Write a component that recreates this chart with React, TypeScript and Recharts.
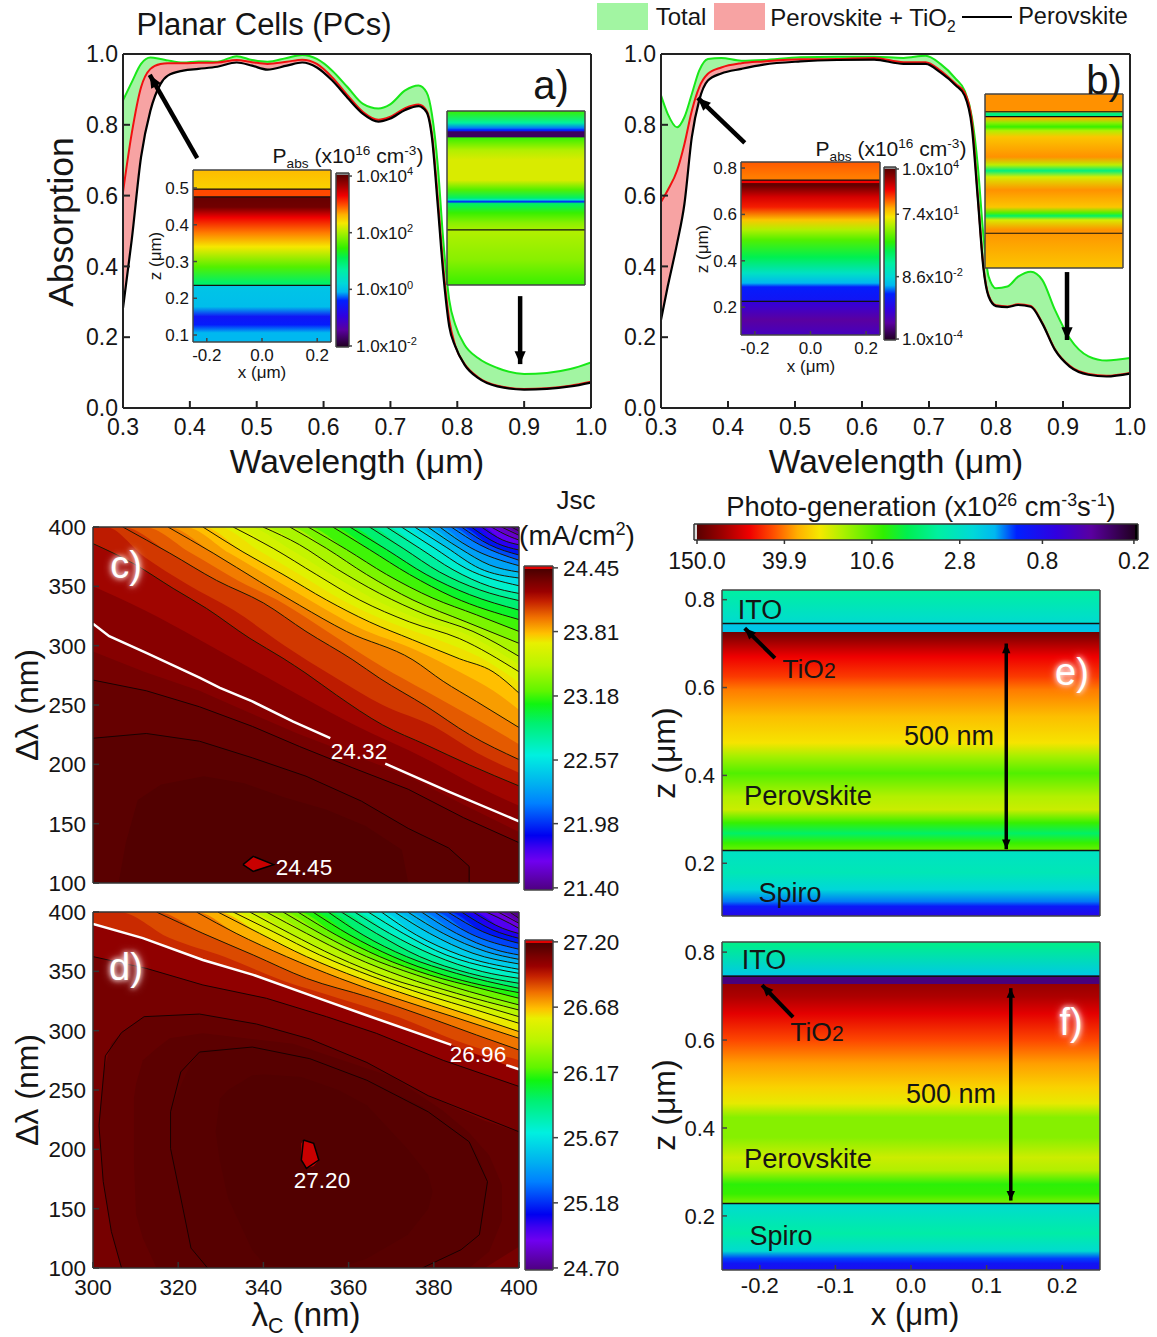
import React from 'react';
import { ComposedChart, Area, Line, XAxis, YAxis, ReferenceLine } from 'recharts';

const FONT = '"Liberation Sans", Arial, sans-serif';
const THIN = 0.001; // axes take no room, the plot box is set by the margins

// a) absorption, planar cell
const waveA = [0.3, 0.313, 0.327, 0.341, 0.356, 0.367, 0.39, 0.413, 0.441, 0.47, 0.493, 0.516, 0.545, 0.568, 0.59, 0.613, 0.636, 0.659, 0.682, 0.699, 0.722, 0.742, 0.754, 0.762, 0.771, 0.779, 0.788, 0.797, 0.811, 0.831, 0.86, 0.9, 0.934, 0.969, 1];
const totalA = [0.869, 0.92, 0.972, 0.99, 0.986, 0.982, 0.976, 0.979, 0.978, 0.994, 0.983, 0.978, 0.989, 0.997, 0.986, 0.953, 0.906, 0.859, 0.846, 0.857, 0.897, 0.911, 0.892, 0.831, 0.681, 0.474, 0.305, 0.235, 0.178, 0.141, 0.113, 0.096, 0.099, 0.11, 0.129];
const tioA = [0.61, 0.775, 0.906, 0.958, 0.972, 0.974, 0.974, 0.975, 0.976, 0.983, 0.977, 0.972, 0.978, 0.984, 0.972, 0.934, 0.883, 0.836, 0.814, 0.822, 0.847, 0.857, 0.84, 0.775, 0.587, 0.399, 0.249, 0.176, 0.124, 0.087, 0.063, 0.054, 0.056, 0.063, 0.074];
const perovA = [0.282, 0.474, 0.709, 0.84, 0.915, 0.939, 0.953, 0.958, 0.964, 0.976, 0.967, 0.956, 0.967, 0.976, 0.962, 0.925, 0.876, 0.831, 0.809, 0.817, 0.842, 0.853, 0.836, 0.765, 0.568, 0.38, 0.23, 0.174, 0.122, 0.085, 0.061, 0.052, 0.054, 0.061, 0.072];

// b) absorption, second cell
const waveB = [0.3, 0.31, 0.324, 0.335, 0.346, 0.357, 0.37, 0.39, 0.42, 0.453, 0.508, 0.563, 0.618, 0.662, 0.695, 0.717, 0.74, 0.753, 0.764, 0.773, 0.781, 0.789, 0.8, 0.817, 0.833, 0.852, 0.869, 0.888, 0.91, 0.938, 0.965, 1];
const totalB = [0.883, 0.831, 0.793, 0.822, 0.887, 0.953, 0.986, 0.989, 0.981, 0.983, 0.991, 0.992, 0.992, 0.989, 0.995, 0.972, 0.93, 0.897, 0.822, 0.681, 0.493, 0.371, 0.338, 0.343, 0.371, 0.385, 0.362, 0.277, 0.197, 0.146, 0.134, 0.141];
const tioB = [0.582, 0.615, 0.671, 0.746, 0.84, 0.906, 0.944, 0.962, 0.974, 0.979, 0.985, 0.986, 0.989, 0.977, 0.977, 0.953, 0.915, 0.892, 0.812, 0.595, 0.405, 0.318, 0.29, 0.287, 0.293, 0.288, 0.241, 0.166, 0.119, 0.096, 0.091, 0.099];
const perovB = [0.249, 0.343, 0.465, 0.577, 0.765, 0.869, 0.925, 0.945, 0.958, 0.97, 0.979, 0.983, 0.984, 0.972, 0.972, 0.948, 0.911, 0.883, 0.793, 0.587, 0.399, 0.315, 0.288, 0.285, 0.291, 0.286, 0.239, 0.164, 0.117, 0.094, 0.089, 0.097];

const waveTicks = [0.3, 0.4, 0.5, 0.6, 0.7, 0.8, 0.9, 1];
const waveMinor = [0.35, 0.45, 0.55, 0.65, 0.75, 0.85, 0.95];
const absTicks = [0, 0.2, 0.4, 0.6, 0.8, 1];
const absMinor = [0.1, 0.3, 0.5, 0.7, 0.9];

// c) Jsc contours: level and the line as [lambda_c, delta_lambda]; plain bands have no drawn line
type Contour = { level: number; pts: number[][]; plain?: boolean };
const contoursC: Contour[] = [
  { level: 21.45, pts: [[398.2, 400], [400, 396.6]] },
  { level: 21.52, pts: [[395.9, 400], [400, 393]] },
  { level: 21.65, pts: [[393.5, 400], [397.8, 392], [400, 389]] },
  { level: 21.78, pts: [[391.2, 400], [396.2, 389], [400, 385]] },
  { level: 21.9, pts: [[388.8, 400], [395, 386], [400, 380.6]] },
  { level: 22.03, pts: [[386.5, 400], [393.1, 385], [400, 376.4]] },
  { level: 22.16, pts: [[384.1, 400], [390.8, 385], [400, 372]] },
  { level: 22.29, pts: [[381.4, 400], [388.4, 383], [400, 367.4]] },
  { level: 22.41, pts: [[378.6, 400], [386.1, 382], [393.1, 368], [400, 362]] },
  { level: 22.54, pts: [[375.5, 400], [382.9, 383], [390.8, 365], [400, 357]] },
  { level: 22.67, pts: [[372.4, 400], [379.8, 383], [387.6, 365], [400, 350.5]] },
  { level: 22.8, pts: [[368.9, 400], [376.7, 382], [384.5, 364], [393.1, 350], [400, 344]] },
  { level: 22.92, pts: [[364.9, 400], [372.8, 382], [381.4, 362], [390.8, 347], [400, 338]] },
  { level: 23.05, pts: [[360.3, 400], [368.9, 381], [378.2, 360], [388.4, 343], [400, 330]] },
  { level: 23.18, pts: [[356.3, 400], [364.9, 381], [374.3, 360], [384.5, 341], [400, 322]] },
  { level: 23.3, pts: [[350.5, 400], [359.5, 381], [368.9, 360], [379.8, 340], [390, 326], [400, 312]] },
  { level: 23.43, pts: [[346.2, 400], [354.8, 382], [364.2, 360], [375.1, 338.5], [387.6, 320], [400, 302]] },
  { level: 23.56, pts: [[339.9, 400], [348.5, 385], [357.1, 365], [367.3, 344], [378.2, 326], [389.2, 312], [400, 291]] },
  { level: 23.62, plain: true, pts: [[336.4, 400], [345.5, 383], [355, 362], [365, 341], [376, 323], [388, 309], [400, 284]] },
  { level: 23.68, pts: [[332.9, 400], [342.3, 382], [352.4, 360], [362.6, 338.5], [374.3, 320], [386, 306], [400, 278]] },
  { level: 23.745, plain: true, pts: [[329.3, 400], [339, 380], [348.5, 360], [358.5, 338.5], [369.5, 320], [381, 305], [392, 288], [400, 269]] },
  { level: 23.81, pts: [[325.8, 400], [335.2, 379], [344.6, 360], [354.8, 338.5], [364.9, 320], [375, 305], [386, 289], [393.9, 278], [400, 260]] },
  { level: 23.875, plain: true, pts: [[321.5, 400], [332, 378], [342, 357], [352, 336], [362, 316], [376, 296], [386, 278], [394, 262], [400, 246]] },
  { level: 23.94, pts: [[317.6, 400], [328.2, 378], [339.1, 354], [348.5, 334], [359.5, 312], [375.1, 288], [382.2, 270], [390, 253], [400, 231]] },
  { level: 24.0, plain: true, pts: [[312, 400], [323, 378], [334, 355], [345, 335], [355, 312], [368, 282], [378, 262], [390, 238], [400, 217]] },
  { level: 24.07, pts: [[307, 400], [318, 378], [329, 355], [340, 336], [350, 312], [361, 288], [367.3, 272.5], [378.2, 249], [388.4, 225], [400, 204]] },
  { level: 24.13, plain: true, pts: [[303, 400], [312, 375], [322, 352], [333, 330], [345, 300], [356, 275], [368, 250], [380, 232], [390, 210], [400, 193]] },
  { level: 24.19, pts: [[300, 386], [309.4, 369.4], [318.8, 348.3], [326.6, 331.5], [336.8, 306.2], [344.6, 289.4], [350, 276.7], [357.1, 258.5], [368, 233.2], [378.2, 216.4], [388.4, 199.5], [400, 181.8]] },
  { level: 24.255, plain: true, pts: [[300, 350], [312, 330], [325, 305], [340, 275], [350, 255], [362, 232], [378, 205], [390, 182], [400, 165]] },
];
const whiteC = [[300, 318.5], [303.8, 308], [312.5, 294], [325, 273], [329.8, 264.5], [337.4, 253], [347, 236], [355.7, 222]];
const whiteC2 = [[368.6, 200.6], [383.5, 177], [400, 152]];
const belowWhiteC = [[300, 295], [312, 278], [325, 262], [337, 243], [348, 226], [361, 208], [374, 190], [387, 166], [400, 143]];
const line1C = [[300, 271], [312.5, 262], [325, 248.5], [337.4, 232], [348.5, 215], [361, 197], [374, 179], [387, 155], [400, 134]];
const line2C = [[300, 222], [312.5, 226], [325, 219.5], [337.4, 205.5], [350, 190], [363, 169], [374, 146], [383.5, 129.5], [388.3, 114], [388.3, 100]];
const innerC = [[306, 100], [307.7, 134], [310.5, 170], [316, 183], [326, 190], [335.5, 184], [345, 172], [354.7, 162], [364, 148], [372.5, 128], [374, 100]];
const peakC = [{ x: 335.2, band: [115.5, 115.5] }, { x: 337.6, band: [109.8, 122.5] }, { x: 342.4, band: [115.5, 115.5] }];
const peakCLine = [[335.2, 115.5], [337.6, 122.5], [342.4, 115.5], [337.6, 109.8], [335.2, 115.5]];

// d) Jsc contours
const contoursD: Contour[] = [
  { level: 24.75, pts: [[397.8, 400], [400, 394.7]] },
  { level: 24.84, pts: [[395.1, 400], [400, 390.5]] },
  { level: 24.94, pts: [[392.3, 400], [397.8, 390.5], [400, 386.2]] },
  { level: 25.03, pts: [[389.2, 400], [396.2, 386.2], [400, 381.8]] },
  { level: 25.12, pts: [[386.5, 400], [393.9, 384.8], [400, 377.8]] },
  { level: 25.21, pts: [[383.3, 400], [391.5, 383.4], [400, 373.6]] },
  { level: 25.3, pts: [[380.2, 400], [388.4, 382], [400, 368.6]] },
  { level: 25.4, pts: [[377.1, 400], [385.3, 382], [394.7, 368], [400, 363.8]] },
  { level: 25.49, pts: [[373.9, 400], [382.2, 382], [392.3, 366.6], [400, 360.1]] },
  { level: 25.58, pts: [[370.8, 400], [379, 382], [389.2, 365.2], [400, 356.2]] },
  { level: 25.67, pts: [[367.7, 400], [375.9, 380.6], [386.1, 363.8], [400, 351.7]] },
  { level: 25.76, pts: [[364.6, 400], [372.8, 382], [382.9, 363.8], [393.9, 352.5], [400, 348.3]] },
  { level: 25.86, pts: [[361.4, 400], [369.6, 382], [379.8, 363.8], [391.5, 349.7], [400, 344.1]] },
  { level: 25.95, pts: [[358.3, 400], [366.5, 382], [376.7, 362.4], [388.4, 348.3], [400, 339.9]] },
  { level: 26.04, pts: [[355.2, 400], [363.4, 380.6], [373.6, 362.4], [385.3, 348.3], [400, 335.7]] },
  { level: 26.13, pts: [[351.6, 400], [360.3, 380.6], [370.4, 362.4], [382.2, 346.9], [400, 332]] },
  { level: 26.22, pts: [[348.1, 400], [357.1, 380.6], [367.3, 362.4], [379, 346.9], [390.8, 335.7], [400, 327.3]] },
  { level: 26.32, pts: [[344.6, 400], [354, 380.6], [364.2, 362.4], [375.9, 346.9], [388.4, 332.9], [400, 321.7]] },
  { level: 26.41, pts: [[340.7, 400], [350.1, 382], [361, 362.4], [372.8, 345.5], [385.3, 331.5], [400, 317.4]] },
  { level: 26.5, pts: [[336.8, 400], [346.2, 382], [357.1, 362.4], [369.6, 344.1], [381.4, 331.5], [400, 311.8]] },
  { level: 26.59, pts: [[332.9, 400], [342.3, 383.4], [353.2, 363.8], [365.7, 345.5], [378.2, 330.1], [390, 317.4], [400, 306.2]] },
  { level: 26.68, pts: [[329.3, 400], [339.1, 382], [350.1, 362.4], [362.6, 344.1], [375.1, 328.7], [388.4, 313.2], [400, 299.2]] },
  { level: 26.77, pts: [[324.3, 400], [333.6, 382], [345.4, 362.4], [357.9, 344.1], [370.4, 328.1], [384.5, 311.8], [400, 293.6]] },
  { level: 26.86, pts: [[314.9, 400], [325.8, 382], [337.6, 363.8], [350.1, 344.1], [364.9, 328.1], [378.2, 311.8], [390, 296.4], [400, 283.7]] },
  { level: 26.91, plain: true, pts: [[306, 400], [318, 378], [331, 362], [344, 343], [358, 327], [372, 311], [385, 292], [400, 275]] },
];
const whiteD = [[300, 390], [311.7, 378], [325.8, 359.6], [337.6, 347], [353.2, 327], [364.2, 313], [384.1, 288]];
const whiteD2 = [[397, 271], [400, 267.5]];
const blackD = [[300, 362.4], [312.5, 352.5], [325.8, 338.5], [340.7, 327.3], [354.8, 311.8], [366.5, 297.8], [382.2, 275], [400, 253]];
const outerD = [[400, 214.8], [378.7, 245.2], [364.3, 273.2], [350.9, 293], [338.4, 305.6], [325, 314], [312, 311.8], [306.7, 298.4], [302.9, 278.8], [301.4, 220], [302.4, 172.8], [304.3, 130.8], [306.7, 100]];
const outerDBand = [
  { x: 301.4, band: [220, 220] }, { x: 302.4, band: [172.8, 265] }, { x: 304.3, band: [130.8, 289] }, { x: 306.7, band: [100, 298.4] }, { x: 312, band: [100, 311.8] }, { x: 325, band: [100, 314] }, { x: 338.4, band: [100, 305.6] }, { x: 350.9, band: [100, 293] }, { x: 364.3, band: [100, 273.2] }, { x: 378.7, band: [100, 245.2] }, { x: 392, band: [100, 224] }, { x: 400, band: [118, 214.8] },
];
const shelfDBand = [
  { x: 309.6, band: [190, 243] }, { x: 310.1, band: [145, 255] }, { x: 311.7, band: [125, 275] }, { x: 314.9, band: [100, 285] }, { x: 318, band: [100, 293.6] }, { x: 325.8, band: [100, 297.8] }, { x: 347, band: [100, 289] }, { x: 370.4, band: [100, 261] }, { x: 382, band: [100, 233] }, { x: 388.3, band: [100, 214] }, { x: 393, band: [114, 195] }, { x: 396, band: [140, 170] },
];
const middleD = [[326.9, 100], [323, 116.8], [321.1, 150.4], [318.2, 200.8], [318.2, 231.6], [320.6, 265.2], [325, 282], [337.4, 286.2], [350.9, 276.4], [364.3, 258.2], [378.7, 231.6], [388.3, 206.4], [392.6, 172.8], [390.7, 128], [386.4, 115.4], [377.3, 100]];
const middleDBand = [
  { x: 318.2, band: [200.8, 231.6] }, { x: 321.1, band: [150.4, 258] }, { x: 323, band: [116.8, 272] }, { x: 325, band: [108, 282] }, { x: 326.9, band: [100, 284] }, { x: 337.4, band: [100, 286.2] }, { x: 350.9, band: [100, 276.4] }, { x: 364.3, band: [100, 258.2] }, { x: 377.3, band: [100, 236] }, { x: 378.7, band: [102, 231.6] }, { x: 386.4, band: [115.4, 212] }, { x: 388.3, band: [122, 206.4] }, { x: 390.7, band: [128, 192] }, { x: 392.6, band: [172.8, 172.8] },
];
const innerDBand = [
  { x: 328.8, band: [214.8, 214.8] }, { x: 329.8, band: [190, 242.8] }, { x: 331.7, band: [158.8, 250] }, { x: 337.4, band: [115, 262.4] }, { x: 340.3, band: [102.8, 263] }, { x: 348.9, band: [100, 261] }, { x: 357.6, band: [100, 250] }, { x: 364.3, band: [108, 237.2] }, { x: 373.9, band: [128, 200] }, { x: 378.7, band: [150, 178.4] }, { x: 379.7, band: [164.4, 164.4] },
];
const peakD = [{ x: 348.9, band: [191, 205] }, { x: 349.4, band: [187, 207.8] }, { x: 350.1, band: [184, 207] }, { x: 351.8, band: [186, 205] }, { x: 353, band: [191, 191] }];
const peakDLine = [[349.4, 207.8], [351.8, 205], [353, 191], [350.1, 184], [348.9, 191], [349.4, 207.8]];

const lamTicks = [320, 340, 360, 380];
const lamMinor = [310, 330, 350, 370, 390];
const lamLabels = [300, 320, 340, 360, 380, 400];
const dlTicks = [100, 150, 200, 250, 300, 350, 400];
const dlMinor = [125, 175, 225, 275, 325, 375];

const jscTicksC = [24.45, 23.81, 23.18, 22.57, 21.98, 21.4];
const jscTicksD = [27.2, 26.68, 26.17, 25.67, 25.18, 24.7];
const genTicks = [150, 39.9, 10.6, 2.8, 0.8, 0.2];
const pabsTicksA = [1e4, 1e2, 1, 1e-2];
const pabsLabelsA = [['1.0x10', '4'], ['1.0x10', '2'], ['1.0x10', '0'], ['1.0x10', '-2']];
const pabsTicksB = [1e4, 74, 0.086, 1e-4];
const pabsLabelsB = [['1.0x10', '4'], ['7.4x10', '1'], ['8.6x10', '-2'], ['1.0x10', '-4']];

// e), f) photo-generation profile along z (x10^26 cm-3 s-1)
const zE = [0.822, 0.747, 0.745, 0.727, 0.727, 0.693, 0.67, 0.625, 0.595, 0.534, 0.474, 0.443, 0.405, 0.352, 0.322, 0.292, 0.268, 0.246, 0.23, 0.229, 0.179, 0.14, 0.113, 0.102, 0.08];
const genE = [3.9, 2.5, 1.9, 1.9, 135, 88, 68, 52, 40, 30, 24, 16, 10.6, 17, 19, 9.3, 5.5, 9.3, 12, 2.8, 3.2, 2.3, 1.45, 1.04, 0.75];
const zF = [0.821, 0.748, 0.745, 0.742, 0.727, 0.727, 0.698, 0.66, 0.6, 0.547, 0.493, 0.456, 0.424, 0.379, 0.333, 0.303, 0.272, 0.25, 0.23, 0.228, 0.16, 0.12, 0.103, 0.092, 0.077];
const genF = [4.5, 2, 0.32, 0.32, 0.32, 107, 94, 72, 49, 35, 26.8, 22, 13.7, 13.7, 19.2, 16.9, 8.7, 9.3, 12.9, 2.5, 3.7, 2.5, 1.28, 0.98, 0.85];

// inset profiles, log10 of Pabs
const zInsetA1 = [0.549, 0.497, 0.497, 0.476, 0.476, 0.448, 0.42, 0.378, 0.34, 0.285, 0.242, 0.235, 0.235, 0.177, 0.15, 0.128, 0.106, 0.081];
const logInsetA1 = [2.56, 2.44, 2.98, 2.98, 3.94, 3.88, 3.28, 2.8, 2.32, 1.6, 1, 1, 0.04, -0.02, -0.56, -0.44, -0.08, -0.08];
const zInsetA2 = [0.549, 0.517, 0.503, 0.498, 0.496, 0.493, 0.479, 0.477, 0.444, 0.417, 0.363, 0.337, 0.315, 0.31, 0.305, 0.3, 0.275, 0.248, 0.224, 0.148, 0.081];
const logInsetA2 = [1.48, 0.7, -0.2, -0.38, -0.38, -1.7, -1.7, 1.48, 2.02, 2.2, 2.2, 1.6, 1, 0.4, -0.38, 1, 1.48, 1.84, 2.02, 1.84, 1.48];
const zInsetB1 = [0.826, 0.762, 0.748, 0.748, 0.737, 0.737, 0.727, 0.675, 0.632, 0.576, 0.533, 0.49, 0.416, 0.347, 0.304, 0.287, 0.231, 0.225, 0.218, 0.145, 0.08];
const logInsetB1 = [2.56, 2.4, 2.4, 3.04, 3.04, 3.9, 3.95, 3.2, 2.88, 2, 1.36, 0.8, 0.16, -0.8, -1.44, -1.92, -2.08, -2.64, -2.64, -3.2, -2.88];
const zInsetB2 = [0.826, 0.75, 0.745, 0.732, 0.729, 0.723, 0.702, 0.685, 0.669, 0.642, 0.556, 0.522, 0.497, 0.47, 0.414, 0.341, 0.316, 0.303, 0.286, 0.243, 0.08];
const logInsetB2 = [2.3, 2.3, -0.16, -0.16, 2.15, 2.15, 1.12, 0.64, 1.36, 2.0, 2.3, 1.44, -0.16, 1.6, 2.3, 2.0, 0.8, 0, 1.6, 2.3, 2.0];

// colour maps, position along the colour bar -> colour
const JSC_MAP: [number, string][] = [[0, '#4a0000'], [0.04, '#7a0000'], [0.07, '#9a0000'], [0.1, '#c42000'], [0.15, '#f07000'], [0.2, '#ffc000'], [0.23, '#e8f000'], [0.3, '#b8f500'], [0.38, '#60f500'], [0.42, '#10f510'], [0.48, '#00f070'], [0.58, '#00f0e0'], [0.67, '#00b0f0'], [0.73, '#0080ff'], [0.83, '#0000f0'], [0.87, '#4000f0'], [0.91, '#7000f0'], [1, '#4e0080']];
const GEN_MAP: [number, string][] = [[0, '#5a0000'], [0.06, '#a00000'], [0.12, '#f00000'], [0.175, '#ff5000'], [0.23, '#ffb000'], [0.28, '#f5e800'], [0.33, '#b0f000'], [0.425, '#30f000'], [0.48, '#00f050'], [0.55, '#00f0a0'], [0.63, '#00d8d8'], [0.68, '#00b8f0'], [0.73, '#0020ff'], [0.82, '#3000e0'], [0.9, '#5a00a0'], [1, '#200020']];

const hex = (s: string) => [1, 3, 5].map((i) => parseInt(s.slice(i, i + 2), 16));
function paint(t: number, map: [number, string][]) {
  const v = Math.max(0, Math.min(1, t));
  for (let i = 1; i < map.length; i++) {
    if (v <= map[i][0]) {
      const f = (v - map[i - 1][0]) / (map[i][0] - map[i - 1][0]);
      const a = hex(map[i - 1][1]);
      const b = hex(map[i][1]);
      return `rgb(${a.map((c, k) => Math.round(c + (b[k] - c) * f)).join(',')})`;
    }
  }
  return map[map.length - 1][1];
}

type Box = { x: number; y: number; w: number; h: number };
const PAD = 72;

function Panel({ box, children }: { box: Box; children: React.ReactNode }) {
  return (
    <div style={{ position: 'absolute', left: box.x - PAD, top: box.y - PAD }}>
      <ComposedChart width={box.w + 2 * PAD} height={box.h + 2 * PAD} margin={{ top: PAD, right: PAD, bottom: PAD, left: PAD }}>
        {children}
      </ComposedChart>
    </div>
  );
}

// four sided frame with inward ticks
function frameAxes(o: any) {
  const line = { stroke: o.color, strokeWidth: o.width };
  const label = (on: boolean) => (on ? { fill: '#151515', fontSize: o.size, fontFamily: FONT } : false);
  const common = { allowDataOverflow: true, interval: 0 as const, ...line };
  const xa = { type: 'number' as const, domain: o.xDomain, height: THIN, ...common };
  const ya = { type: 'number' as const, domain: o.yDomain, width: THIN, ...common };
  return (
    <>
      <XAxis {...xa} dataKey="x" ticks={o.xLabels || o.xTicks} tick={label(!!o.xFmt) as any} tickFormatter={o.xFmt} tickSize={-o.major} tickMargin={o.major + o.xGap} />
      <XAxis {...xa} xAxisId="top" orientation="top" ticks={o.xTicks} tick={false} tickSize={-o.major} />
      <XAxis {...xa} xAxisId="bm" ticks={o.xMinor} tick={false} tickSize={-o.minor} axisLine={false} />
      <XAxis {...xa} xAxisId="tm" orientation="top" ticks={o.xMinor} tick={false} tickSize={-o.minor} axisLine={false} />
      <YAxis {...ya} ticks={o.yTicks} tick={label(!!o.yFmt) as any} tickFormatter={o.yFmt} tickSize={-o.major} tickMargin={o.major + o.yGap} />
      <YAxis {...ya} yAxisId="right" orientation="right" ticks={o.yTicks} tick={false} tickSize={-o.major} />
      <YAxis {...ya} yAxisId="lm" ticks={o.yMinor} tick={false} tickSize={-o.minor} axisLine={false} />
      <YAxis {...ya} yAxisId="rm" orientation="right" ticks={o.yMinor} tick={false} tickSize={-o.minor} axisLine={false} />
    </>
  );
}

const arrow = (double: boolean, w: number, head: number) => (p: any) => {
  const { x1, y1, x2, y2 } = p;
  const len = Math.hypot(x2 - x1, y2 - y1);
  const ux = (x2 - x1) / len;
  const uy = (y2 - y1) / len;
  const tri = (tx: number, ty: number, dx: number, dy: number) =>
    `${tx},${ty} ${tx - dx * head * 1.6 - dy * head * 0.7},${ty - dy * head * 1.6 + dx * head * 0.7} ${tx - dx * head * 1.6 + dy * head * 0.7},${ty - dy * head * 1.6 - dx * head * 0.7}`;
  return (
    <g>
      <line x1={x1} y1={y1} x2={x2} y2={y2} stroke="#000" strokeWidth={w} />
      <polygon points={tri(x2, y2, ux, uy)} fill="#000" />
      {double && <polygon points={tri(x1, y1, -ux, -uy)} fill="#000" />}
    </g>
  );
};

const toRows = (wave: number[], total: number[], tio: number[], perov: number[]) =>
  wave.map((x, i) => ({ x, total: total[i], tio: tio[i], perov: perov[i], green: [tio[i], total[i]], red: [perov[i], tio[i]] }));

function AbsPanel({ box, wave, total, tio, perov, arrows }: any) {
  const rows = toRows(wave, total, tio, perov);
  return (
    <Panel box={box}>
      <Area data={rows} dataKey="green" type="monotone" fill="#a2f5a2" fillOpacity={1} stroke="none" isAnimationActive={false} dot={false} activeDot={false} />
      <Area data={rows} dataKey="red" type="monotone" fill="#f7a3a3" fillOpacity={1} stroke="none" isAnimationActive={false} dot={false} activeDot={false} />
      <Line data={rows} dataKey="total" type="monotone" stroke="#18e818" strokeWidth={2} isAnimationActive={false} dot={false} activeDot={false} />
      <Line data={rows} dataKey="tio" type="monotone" stroke="#f01010" strokeWidth={2} isAnimationActive={false} dot={false} activeDot={false} />
      <Line data={rows} dataKey="perov" type="monotone" stroke="#000" strokeWidth={2.2} isAnimationActive={false} dot={false} activeDot={false} />
      {arrows.map((a: number[], i: number) => (
        <ReferenceLine key={i} segment={[{ x: a[0], y: a[1] }, { x: a[2], y: a[3] }]} shape={arrow(false, 4.5, 8)} />
      ))}
      {frameAxes({ xDomain: [0.3, 1], yDomain: [0, 1], xTicks: waveTicks, xMinor: waveMinor, yTicks: absTicks, yMinor: absMinor, size: 23, color: '#222', width: 2, major: 7, minor: 4, xGap: 11, yGap: 5, xFmt: (v: number) => v.toFixed(1), yFmt: (v: number) => v.toFixed(1) })}
    </Panel>
  );
}

function HeatPanel({ box, id, zs, vals, toT, map, zDomain, xMinorTicks, xLabels, yLabels, ySize, xTicks, yTicks, yMinor, rules, ruleW, arrows, major, minor }: any) {
  const span = zDomain[1] - zDomain[0];
  const band = [zDomain[0], zDomain[1]];
  const rows = [{ x: -0.25, band }, { x: 0.25, band }];
  const fmt = (v: number) => v.toFixed(1);
  return (
    <Panel box={box}>
      <defs>
        <linearGradient id={id} x1="0" y1="0" x2="0" y2="1">
          {zs.map((z: number, i: number) => (
            <stop key={i} offset={(zDomain[1] - z) / span} stopColor={paint(toT(vals[i]), map)} />
          ))}
        </linearGradient>
      </defs>
      <Area data={rows} dataKey="band" fill={`url(#${id})`} fillOpacity={1} stroke="none" isAnimationActive={false} dot={false} activeDot={false} />
      {rules.map((z: number) => (
        <ReferenceLine key={z} y={z} stroke="#111" strokeWidth={ruleW} />
      ))}
      {(arrows || []).map((a: any, i: number) => (
        <ReferenceLine key={i} segment={[{ x: a.p[0], y: a.p[1] }, { x: a.p[2], y: a.p[3] }]} shape={arrow(a.both, a.w, a.h)} />
      ))}
      {frameAxes({ xDomain: [-0.25, 0.25], yDomain: zDomain, xTicks, xMinor: xMinorTicks, yTicks, yMinor, size: ySize, color: '#444', width: 1.5, major, minor, xGap: 7, yGap: ySize < 20 ? 4 : 7, xFmt: xLabels ? fmt : undefined, yFmt: yLabels ? fmt : undefined })}
    </Panel>
  );
}

function ContourPanel({ box, contours, top, bottom, ceil, base, children, xFmt }: any) {
  const t = (v: number) => (top - v) / (top - bottom);
  const region = (pts: number[][]) => (pts[0][0] > 300 ? [[300, 400], ...pts] : pts).map(([x, y]) => ({ x, y }));
  return (
    <Panel box={box}>
      <Area data={[{ x: 300, band: [100, 400] }, { x: 400, band: [100, 400] }]} dataKey="band" fill={paint(t(base), JSC_MAP)} fillOpacity={1} stroke="none" isAnimationActive={false} dot={false} activeDot={false} />
      {contours.map((c: Contour, i: number) => (
        <Area key={i} data={region(c.pts)} dataKey="y" type="monotone" baseValue={100} fill={paint(t((c.level + (contours[i + 1]?.level ?? ceil)) / 2), JSC_MAP)} fillOpacity={1} stroke="none" isAnimationActive={false} dot={false} activeDot={false} />
      ))}
      {contours.filter((c: Contour) => !c.plain).map((c: Contour, i: number) => (
        <Line key={i} data={c.pts.map(([x, y]) => ({ x, y }))} dataKey="y" type="monotone" stroke="#1a1a00" strokeWidth={1} isAnimationActive={false} dot={false} activeDot={false} />
      ))}
      {children}
      {frameAxes({ xDomain: [300, 400], yDomain: [100, 400], xTicks: lamTicks, xLabels: xFmt ? lamLabels : lamTicks, xMinor: lamMinor, yTicks: dlTicks, yMinor: dlMinor, size: 22.5, color: '#333', width: 1.5, major: 6, minor: 3, xGap: 11, yGap: 7, xFmt, yFmt: (v: number) => String(v) })}
    </Panel>
  );
}

const fillArea = (key: string, data: any[], color: string) => (
  <Area key={key} data={data} dataKey="band" fill={color} fillOpacity={1} stroke="none" isAnimationActive={false} dot={false} activeDot={false} />
);
const fillUnder = (key: string, pts: number[][], color: string) => (
  <Area key={key} data={pts.map(([x, y]) => ({ x, y }))} dataKey="y" baseValue={100} fill={color} fillOpacity={1} stroke="none" isAnimationActive={false} dot={false} activeDot={false} />
);
const trace = (key: string, pts: number[][], color: string, w: number) => (
  <Line key={key} data={pts.map(([x, y]) => ({ x, y }))} dataKey="y" stroke={color} strokeWidth={w} isAnimationActive={false} dot={false} activeDot={false} />
);

function ColorBar({ box, id, domain, ticks, map, capTop, capW, labelOf, size, gap, tickLen }: any) {
  const band = domain;
  const rows = [{ x: 0, band }, { x: 1, band }];
  const cap = capW ?? 0;
  const stops = map.map(([t, c]: [number, string]) => ({ o: cap + t * (1 - cap), c }));
  const tick = (p: any) => {
    const lab = labelOf(p.payload.value, ticks.indexOf(p.payload.value));
    return (
      <text x={p.x} y={p.y} dy="0.36em" textAnchor="start" fontFamily={FONT} fontSize={size} fill="#151515">
        <tspan>{lab[0]}</tspan>
        {lab[1] && <tspan dy={-size * 0.4} fontSize={size * 0.65}>{lab[1]}</tspan>}
      </text>
    );
  };
  return (
    <Panel box={box}>
      <defs>
        <linearGradient id={id} x1="0" y1="0" x2="0" y2="1">
          <stop offset={0} stopColor={capTop} />
          <stop offset={cap} stopColor={capTop} />
          {stops.map((s: any, i: number) => (
            <stop key={i} offset={s.o} stopColor={s.c} />
          ))}
        </linearGradient>
      </defs>
      <Area data={rows} dataKey="band" fill={`url(#${id})`} fillOpacity={1} stroke="none" isAnimationActive={false} dot={false} activeDot={false} />
      <XAxis type="number" dataKey="x" domain={[0, 1]} height={THIN} ticks={[0, 1]} tick={false} tickLine={false} stroke="#444" strokeWidth={1.5} />
      <XAxis xAxisId="top" orientation="top" type="number" domain={[0, 1]} height={THIN} ticks={[0, 1]} tick={false} tickLine={false} stroke="#444" strokeWidth={1.5} />
      <YAxis yAxisId="left" type="number" scale="log" domain={domain} allowDataOverflow width={THIN} ticks={ticks} tick={false} tickLine={false} stroke="#444" strokeWidth={1.5} />
      <YAxis orientation="right" type="number" scale="log" domain={domain} allowDataOverflow width={THIN} ticks={ticks} interval={0} tick={tick} tickSize={tickLen} tickMargin={gap} stroke="#444" strokeWidth={1.5} />
    </Panel>
  );
}

function GenBar({ box }: { box: Box }) {
  const domain = [0.188, 157];
  const band = [0, 1];
  const rows = [{ x: domain[0], band }, { x: domain[1], band }];
  return (
    <Panel box={box}>
      <defs>
        <linearGradient id="genBar" x1="0" y1="0" x2="1" y2="0">
          <stop offset={0} stopColor="#ddd" />
          <stop offset={0.007} stopColor="#ddd" />
          {GEN_MAP.map(([t, c], i) => (
            <stop key={i} offset={0.007 + t * 0.986} stopColor={c} />
          ))}
          <stop offset={0.993} stopColor="#000" />
          <stop offset={1} stopColor="#000" />
        </linearGradient>
      </defs>
      <Area data={rows} dataKey="band" fill="url(#genBar)" fillOpacity={1} stroke="none" isAnimationActive={false} dot={false} activeDot={false} />
      <XAxis dataKey="x" type="number" scale="log" reversed domain={domain} allowDataOverflow height={THIN} ticks={genTicks} interval={0} tickFormatter={(v: number) => v.toFixed(1)} tick={{ fill: '#151515', fontSize: 23, fontFamily: FONT }} tickSize={4} tickMargin={9} stroke="#333" strokeWidth={1.5} />
      <XAxis xAxisId="top" orientation="top" type="number" scale="log" reversed domain={domain} allowDataOverflow height={THIN} ticks={genTicks} tick={false} tickLine={false} stroke="#333" strokeWidth={1.5} />
      <YAxis type="number" domain={[0, 1]} width={THIN} ticks={[0, 1]} tick={false} tickLine={false} stroke="#333" strokeWidth={1.5} />
      <YAxis yAxisId="right" orientation="right" type="number" domain={[0, 1]} width={THIN} ticks={[0, 1]} tick={false} tickLine={false} stroke="#333" strokeWidth={1.5} />
    </Panel>
  );
}

const GLOW = '0 0 5px #fff, 0 0 9px #ffd0d0';
function Txt({ x, y, size, color = '#151515', rotate = 0, glow, children }: any) {
  return (
    <div
      style={{
        position: 'absolute', left: x, top: y, transform: `translate(-50%,-50%) rotate(${rotate}deg)`, fontFamily: FONT, fontSize: size, lineHeight: 1, color, whiteSpace: 'nowrap', textShadow: glow,
      }}
    >
      {children}
    </div>
  );
}
const Sup = ({ children }: any) => <sup style={{ fontSize: '0.65em', lineHeight: 0 }}>{children}</sup>;
const Sub = ({ children }: any) => <sub style={{ fontSize: '0.65em', lineHeight: 0 }}>{children}</sub>;
const Swatch = ({ x, color }: any) => <div style={{ position: 'absolute', left: x, top: 3, width: 51, height: 27, background: color }} />;

const tA = (v: number) => (4 - v) / 6;
const tB = (v: number) => (4 - v) / 8;
const tGen = (v: number) => Math.log(150 / v) / Math.log(750);
const INSET_MINOR_X = [-0.1, 0.1];
const INSET_X = [-0.2, 0, 0.2];
const PROFILE_X = [-0.2, -0.1, 0, 0.1, 0.2];
const PROFILE_X_MINOR = [-0.15, -0.05, 0.05, 0.15];
const PROFILE_Z = [0.2, 0.4, 0.6, 0.8];
const PROFILE_Z_MINOR = [0.1, 0.3, 0.5, 0.7];

export default function App() {
  const jscLabel = (v: number) => [v.toFixed(2)];
  return (
    <div style={{ position: 'absolute', left: 0, top: 0, width: 1157, height: 1337, background: '#fff', overflow: 'hidden' }}>
      <AbsPanel box={{ x: 123, y: 54, w: 468, h: 354 }} wave={waveA} total={totalA} tio={tioA} perov={perovA} arrows={[[0.411, 0.706, 0.34, 0.941], [0.894, 0.316, 0.894, 0.124]]} />
      <AbsPanel box={{ x: 661, y: 54, w: 469, h: 354 }} wave={waveB} total={totalB} tio={tioB} perov={perovB} arrows={[[0.425, 0.749, 0.355, 0.876], [0.906, 0.384, 0.906, 0.192]]} />

      <HeatPanel box={{ x: 193, y: 170, w: 138, h: 172 }} id="insetA1" zs={zInsetA1} vals={logInsetA1} toT={tA} map={GEN_MAP} zDomain={[0.081, 0.549]} xTicks={INSET_X} xMinorTicks={INSET_MINOR_X} yTicks={[0.1, 0.2, 0.3, 0.4, 0.5]} yMinor={[0.15, 0.25, 0.35, 0.45]} xLabels yLabels ySize={17} rules={[0.497, 0.476, 0.235]} ruleW={1.2} major={4} minor={2} />
      <HeatPanel box={{ x: 447, y: 111, w: 138, h: 174 }} id="insetA2" zs={zInsetA2} vals={logInsetA2} toT={tA} map={GEN_MAP} zDomain={[0.081, 0.549]} xTicks={INSET_X} xMinorTicks={INSET_MINOR_X} yTicks={[0.1, 0.2, 0.3, 0.4, 0.5]} yMinor={[0.15, 0.25, 0.35, 0.45]} ySize={17} rules={[0.229]} ruleW={1.2} major={4} minor={2} />
      <HeatPanel box={{ x: 741, y: 162, w: 139, h: 173 }} id="insetB1" zs={zInsetB1} vals={logInsetB1} toT={tB} map={GEN_MAP} zDomain={[0.08, 0.826]} xTicks={INSET_X} xMinorTicks={INSET_MINOR_X} yTicks={[0.2, 0.4, 0.6, 0.8]} yMinor={[0.3, 0.5, 0.7]} xLabels yLabels ySize={17} rules={[0.748, 0.225]} ruleW={1.2} major={4} minor={2} />
      <HeatPanel box={{ x: 985, y: 94, w: 138, h: 174 }} id="insetB2" zs={zInsetB2} vals={logInsetB2} toT={tB} map={GEN_MAP} zDomain={[0.08, 0.826]} xTicks={INSET_X} xMinorTicks={INSET_MINOR_X} yTicks={[0.2, 0.4, 0.6, 0.8]} yMinor={[0.3, 0.5, 0.7]} ySize={17} rules={[0.75, 0.729, 0.229]} ruleW={1.2} major={4} minor={2} />

      <ColorBar box={{ x: 336, y: 173, w: 13, h: 174 }} id="barA" domain={[0.0092, 12800]} ticks={pabsTicksA} map={GEN_MAP} capTop="#888" capW={0.012} size={17} gap={4} tickLen={3} labelOf={(_: number, i: number) => pabsLabelsA[i]} />
      <ColorBar box={{ x: 884, y: 167, w: 12, h: 173 }} id="barB" domain={[0.00009, 12400]} ticks={pabsTicksB} map={GEN_MAP} capTop="#888" capW={0.012} size={17} gap={3} tickLen={3} labelOf={(_: number, i: number) => pabsLabelsB[i]} />

      <ContourPanel box={{ x: 93, y: 527, w: 426, h: 356 }} contours={contoursC} top={24.45} bottom={21.4} ceil={24.32} base={21.42}>
        {fillUnder('w', [...whiteC, ...whiteC2], '#860000')}
        {fillUnder('bw', belowWhiteC, '#760000')}
        {fillUnder('l1', line1C, '#660000')}
        {fillUnder('l2', line2C, '#5a0000')}
        {fillUnder('in', innerC, '#520000')}
        {trace('wl', whiteC, '#fff', 2.5)}
        {trace('wl2', whiteC2, '#fff', 2.5)}
        {trace('l1l', line1C, '#1a0000', 1)}
        {trace('l2l', line2C, '#1a0000', 1)}
        {fillArea('pk', peakC, '#c80000')}
        {trace('pkl', peakCLine, '#000', 1.5)}
      </ContourPanel>

      <ContourPanel box={{ x: 93, y: 912, w: 426, h: 356 }} contours={contoursD} top={27.2} bottom={24.7} ceil={26.96} base={24.72} xFmt={(v: number) => String(v)}>
        {fillUnder('w', [...whiteD, ...whiteD2], '#900000')}
        {fillUnder('b', blackD, '#760000')}
        {fillArea('o', outerDBand, '#640000')}
        {fillArea('s', shelfDBand, '#5c0000')}
        {fillArea('m', middleDBand, '#570000')}
        {fillArea('i', innerDBand, '#520000')}
        {trace('wl', whiteD, '#fff', 2.5)}
        {trace('wl2', whiteD2, '#fff', 2.5)}
        {trace('bl', blackD, '#1a0000', 1)}
        {trace('ol', outerD, '#1a0000', 1)}
        {trace('ml', middleD, '#1a0000', 1)}
        {fillArea('pk', peakD, '#c80000')}
        {trace('pkl', peakDLine, '#000', 1.5)}
      </ContourPanel>

      <ColorBar box={{ x: 524, y: 566, w: 29, h: 324 }} id="barC" domain={[21.381, 24.469]} ticks={jscTicksC} map={JSC_MAP} capTop="#e00000" capW={0.01} size={22.5} gap={5} tickLen={5} labelOf={jscLabel} />
      <ColorBar box={{ x: 525, y: 940, w: 28, h: 330 }} id="barD" domain={[24.685, 27.215]} ticks={jscTicksD} map={JSC_MAP} capTop="#e00000" capW={0.01} size={22.5} gap={5} tickLen={5} labelOf={jscLabel} />

      <GenBar box={{ x: 694, y: 524, w: 444, h: 16 }} />

      <HeatPanel box={{ x: 722, y: 590, w: 378, h: 326 }} id="profE" zs={zE} vals={genE} toT={tGen} map={GEN_MAP} zDomain={[0.08, 0.822]} xTicks={PROFILE_X} xMinorTicks={PROFILE_X_MINOR} yTicks={PROFILE_Z} yMinor={PROFILE_Z_MINOR} yLabels ySize={22} rules={[0.746, 0.229]} ruleW={1.5} major={5} minor={3} arrows={[{ p: [-0.18, 0.667, -0.22, 0.735], w: 4, h: 7 }, { p: [0.126, 0.232, 0.126, 0.7], both: true, w: 3.5, h: 6 }]} />
      <HeatPanel box={{ x: 722, y: 942, w: 378, h: 328 }} id="profF" zs={zF} vals={genF} toT={tGen} map={GEN_MAP} zDomain={[0.077, 0.823]} xTicks={PROFILE_X} xMinorTicks={PROFILE_X_MINOR} yTicks={PROFILE_Z} yMinor={PROFILE_Z_MINOR} xLabels yLabels ySize={22} rules={[0.745, 0.228]} ruleW={1.5} major={5} minor={3} arrows={[{ p: [-0.156, 0.652, -0.197, 0.725], w: 4, h: 7 }, { p: [0.132, 0.235, 0.132, 0.718], both: true, w: 3.5, h: 6 }]} />

      <Txt x={264} y={24} size={31}>Planar Cells (PCs)</Txt>
      <Swatch x={597} color="#a2f5a2" />
      <Txt x={681} y={17} size={24}>Total</Txt>
      <Swatch x={714} color="#f7a3a3" />
      <Txt x={863} y={18} size={24}>Perovskite + TiO<Sub>2</Sub></Txt>
      <div style={{ position: 'absolute', left: 962, top: 16, width: 50, height: 2, background: '#000' }} />
      <Txt x={1073} y={17} size={23.5}>Perovskite</Txt>

      <Txt x={551} y={85} size={40}>a)</Txt>
      <Txt x={1104} y={80} size={40}>b)</Txt>
      <Txt x={62} y={222} size={35.5} rotate={-90}>Absorption</Txt>
      <Txt x={357} y={462} size={33.5}>Wavelength (μm)</Txt>
      <Txt x={896} y={462} size={33.5}>Wavelength (μm)</Txt>

      <Txt x={348} y={155} size={21}>P<Sub>abs</Sub> (x10<Sup>16</Sup> cm<Sup>-3</Sup>)</Txt>
      <Txt x={155} y={256} size={17} rotate={-90}>z (μm)</Txt>
      <Txt x={262} y={372} size={17}>x (μm)</Txt>
      <Txt x={891} y={148} size={21}>P<Sub>abs</Sub> (x10<Sup>16</Sup> cm<Sup>-3</Sup>)</Txt>
      <Txt x={702} y={249} size={17} rotate={-90}>z (μm)</Txt>
      <Txt x={811} y={366} size={17}>x (μm)</Txt>

      <Txt x={27} y={705} size={32} rotate={-90}>Δλ (nm)</Txt>
      <Txt x={27} y={1090} size={32} rotate={-90}>Δλ (nm)</Txt>
      <Txt x={306} y={1314} size={33}>λ<Sub>C</Sub> (nm)</Txt>
      <Txt x={576} y={500} size={26}>Jsc</Txt>
      <Txt x={577} y={536} size={28}>(mA/cm<Sup>2</Sup>)</Txt>
      <Txt x={126} y={565} size={38} color="#fff" glow={GLOW}>c)</Txt>
      <Txt x={126} y={967} size={38} color="#fff" glow={GLOW}>d)</Txt>
      <Txt x={359} y={752} size={22.5} color="#fff">24.32</Txt>
      <Txt x={304} y={868} size={22.5} color="#fff">24.45</Txt>
      <Txt x={478} y={1055} size={22.5} color="#fff">26.96</Txt>
      <Txt x={322} y={1181} size={22.5} color="#fff">27.20</Txt>

      <Txt x={921} y={507} size={27.4}>Photo-generation (x10<Sup>26</Sup> cm<Sup>-3</Sup>s<Sup>-1</Sup>)</Txt>
      <Txt x={664} y={753} size={32} rotate={-90}>z (μm)</Txt>
      <Txt x={664} y={1105} size={32} rotate={-90}>z (μm)</Txt>
      <Txt x={915} y={1314} size={31}>x (μm)</Txt>

      <Txt x={760} y={610} size={27}>ITO</Txt>
      <Txt x={809} y={669} size={26.5}>TiO<span style={{ fontSize: '0.8em' }}>2</span></Txt>
      <Txt x={949} y={736} size={27}>500 nm</Txt>
      <Txt x={808} y={796} size={27.4}>Perovskite</Txt>
      <Txt x={790} y={893} size={27}>Spiro</Txt>
      <Txt x={1072} y={672} size={38} color="#fff" glow={GLOW}>e)</Txt>

      <Txt x={764} y={960} size={27}>ITO</Txt>
      <Txt x={817} y={1032} size={26.5}>TiO<span style={{ fontSize: '0.8em' }}>2</span></Txt>
      <Txt x={951} y={1094} size={27}>500 nm</Txt>
      <Txt x={808} y={1159} size={27.4}>Perovskite</Txt>
      <Txt x={781} y={1236} size={27}>Spiro</Txt>
      <Txt x={1071} y={1022} size={38} color="#fff" glow={GLOW}>f)</Txt>
    </div>
  );
}
